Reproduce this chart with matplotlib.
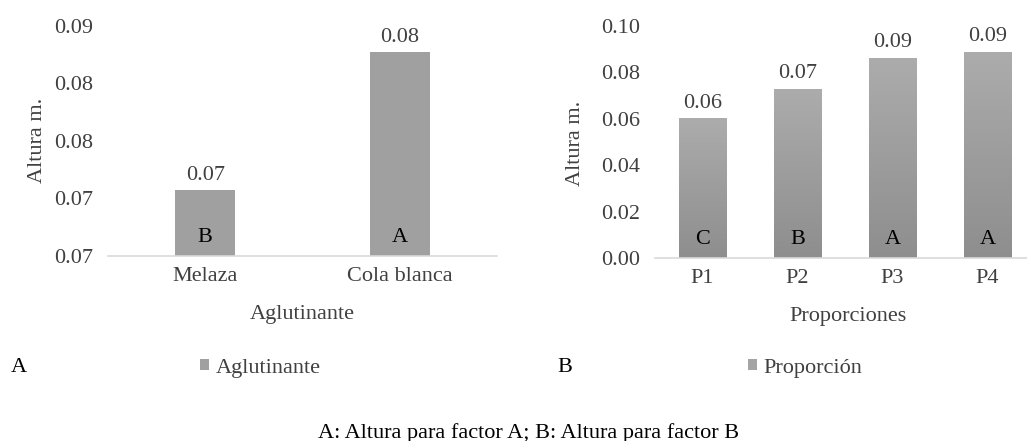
import numpy as np
import matplotlib
matplotlib.use('Agg')
from matplotlib import pyplot as plt
from matplotlib.ticker import MultipleLocator, FuncFormatter

#   data: mean height per factor level
binders = ['Melaza', 'Cola blanca']
binder_height = [0.0707, 0.0827]
binder_group = ['B', 'A']

proportions = ['P1', 'P2', 'P3', 'P4']
prop_height = [0.0603, 0.0730, 0.0863, 0.0888]
prop_group = ['C', 'B', 'A', 'A']

W, H = 1027, 441
TXT = '#404040'
FS = 16

plt.rcParams['font.family'] = ['Liberation Serif', 'DejaVu Serif']


def fmt2(v, pos=None):
    # round half up, the way a spreadsheet shows it
    return '{:.2f}'.format(v + 1e-9)


def style_axes(ax):
    for side in ('top', 'right', 'left'):
        ax.spines[side].set_visible(False)
    ax.spines['bottom'].set_color('#d9d9d9')
    ax.spines['bottom'].set_linewidth(1.2)
    ax.tick_params(axis='both', length=0, labelsize=FS, colors=TXT)
    ax.tick_params(axis='y', pad=11)
    ax.tick_params(axis='x', pad=8)
    ax.yaxis.set_major_formatter(FuncFormatter(fmt2))


def label_bars(ax, bars, values, groups, ymin):
    for b, v, g in zip(bars, values, groups):
        cx = b.get_x() + b.get_width() / 2
        ax.annotate(fmt2(v), (cx, v), xytext=(0, 4), textcoords='offset points',
                    ha='center', va='bottom', fontsize=FS, color=TXT)
        ax.annotate(g, (cx, ymin), xytext=(0, 13), textcoords='offset points',
                    ha='center', va='center', fontsize=FS, color='black')


fig = plt.figure(figsize=(W / 100, H / 100), dpi=100)

#   left panel: binder
ax1 = fig.add_axes([108 / W, 1 - 256 / H, 389 / W, 230 / H])
x1 = np.arange(len(binders))
bars1 = ax1.bar(x1, binder_height, width=0.31, color='#a0a0a0', label='Aglutinante')
ax1.set_xlim(-0.5, 1.5)
ax1.set_ylim(0.065, 0.085)
ax1.yaxis.set_major_locator(MultipleLocator(0.005))
ax1.set_xticks(x1)
ax1.set_xticklabels(binders)
style_axes(ax1)
label_bars(ax1, bars1, binder_height, binder_group, 0.065)

#   right panel: proportion
ax2 = fig.add_axes([655 / W, 1 - 258 / H, 380 / W, 232 / H])
x2 = np.arange(len(proportions))
bars2 = ax2.bar(x2, prop_height, width=0.5, color='#a4a4a4', label='Proporción')
ax2.set_xlim(-0.5, 3.5)
ax2.set_ylim(0, 0.10)
ax2.yaxis.set_major_locator(MultipleLocator(0.02))
ax2.set_xticks(x2)
ax2.set_xticklabels(proportions)
style_axes(ax2)

#   vertical gradient fill on the proportion bars
grad = np.linspace(0, 1, 256).reshape(-1, 1)
cmap = matplotlib.colors.LinearSegmentedColormap.from_list('g', ['#8e8e8e', '#acacac'])
for b in bars2:
    x0, w, h = b.get_x(), b.get_width(), b.get_height()
    im = ax2.imshow(grad, cmap=cmap, aspect='auto', origin='lower',
                    extent=[x0, x0 + w, 0, h], zorder=b.get_zorder() + 0.1)
    im.set_clip_path(b)
ax2.set_xlim(-0.5, 3.5)
ax2.set_ylim(0, 0.10)
label_bars(ax2, bars2, prop_height, prop_group, 0.0)

#   axis titles
fig.text(38 / W, 1 - 140 / H, 'Altura m.', rotation=90, ha='center', va='center',
         fontsize=FS, color=TXT)
fig.text(575 / W, 1 - 143 / H, 'Altura m.', rotation=90, ha='center', va='center',
         fontsize=FS, color=TXT)
fig.text(302 / W, 1 - 315 / H, 'Aglutinante', ha='center', va='center', fontsize=FS, color=TXT)
fig.text(848 / W, 1 - 316 / H, 'Proporciones', ha='center', va='center', fontsize=FS, color=TXT)

#   legends and panel letters
for bars, lab, xpos in ((bars1, 'Aglutinante', 200), (bars2, 'Proporción', 748)):
    fig.legend([bars], [lab], loc='center left', bbox_to_anchor=(xpos / W, 1 - 368 / H),
               frameon=False, fontsize=FS, labelcolor=TXT, handlelength=0.4,
               handleheight=0.4, handletextpad=0.3, borderpad=0, borderaxespad=0)
fig.text(19 / W, 1 - 368 / H, 'A', ha='center', va='center', fontsize=FS, color='black')
fig.text(565 / W, 1 - 367 / H, 'B', ha='center', va='center', fontsize=FS, color='black')

fig.text(529 / W, 1 - 433 / H, 'A: Altura para factor A; B: Altura para factor B',
         ha='center', va='center', fontsize=FS, color='black')

fig.savefig('out.png', dpi=100)
